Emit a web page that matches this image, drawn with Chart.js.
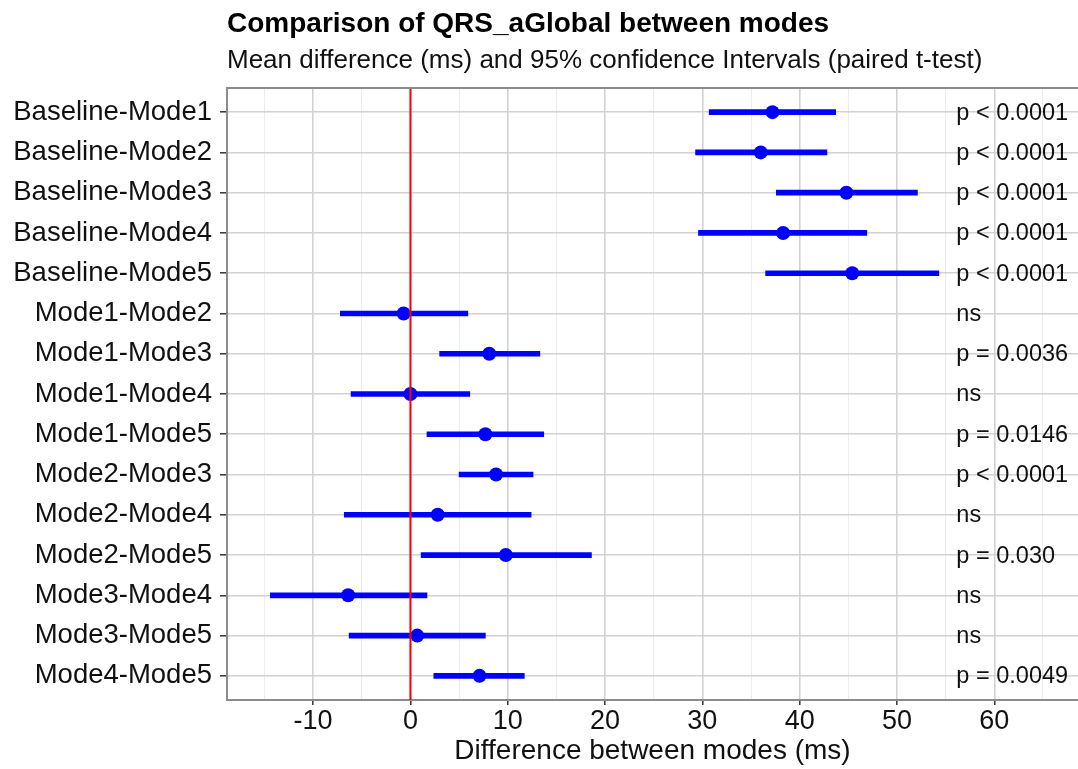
<!DOCTYPE html>
<html>
<head>
<meta charset="utf-8">
<title>Comparison of QRS_aGlobal between modes</title>
<script src="https://cdn.jsdelivr.net/npm/chart.js@4.4.1/dist/chart.umd.min.js"></script>
<style>
  html, body { margin: 0; padding: 0; background: #ffffff; }
  #wrap { width: 1078px; height: 769px; }
  canvas { display: block; }
</style>
</head>
<body>
<div id="wrap"><canvas id="chart" width="1078" height="769"></canvas></div>
<script>
// Pairwise comparisons (top to bottom)
const comparisons = [
  'Baseline-Mode1', 'Baseline-Mode2', 'Baseline-Mode3', 'Baseline-Mode4', 'Baseline-Mode5',
  'Mode1-Mode2', 'Mode1-Mode3', 'Mode1-Mode4', 'Mode1-Mode5',
  'Mode2-Mode3', 'Mode2-Mode4', 'Mode2-Mode5',
  'Mode3-Mode4', 'Mode3-Mode5', 'Mode4-Mode5'
];
// Mean difference (ms)
const meanDiff = [37.2, 36.0, 44.8, 38.3, 45.4, -0.7, 8.1, 0.0, 7.7, 8.8, 2.8, 9.8, -6.4, 0.7, 7.1];
// 95% confidence interval bounds (ms)
const ciLower = [30.7, 29.3, 37.6, 29.6, 36.5, -7.2, 3.0, -6.1, 1.7, 5.0, -6.8, 1.1, -14.4, -6.3, 2.4];
const ciUpper = [43.7, 42.8, 52.1, 46.9, 54.3, 5.9, 13.3, 6.1, 13.7, 12.6, 12.4, 18.6, 1.7, 7.7, 11.7];
// Paired t-test results
const pLabels = [
  'p < 0.0001', 'p < 0.0001', 'p < 0.0001', 'p < 0.0001', 'p < 0.0001',
  'ns', 'p = 0.0036', 'ns', 'p = 0.0146',
  'p < 0.0001', 'ns', 'p = 0.030',
  'ns', 'ns', 'p = 0.0049'
];
// x-axis grid positions (labels on multiples of 10)
const xTickValues = [-15, -10, -5, 0, 5, 10, 15, 20, 25, 30, 35, 40, 45, 50, 55, 60, 65];
const xMin = -18.85;
const xMax = 68.6;
const zeroLine = 0;
const pLabelX = 56.1;

const FONT = '"Liberation Sans", Arial, Helvetica, sans-serif';
const BLUE = '#0000ff';

const rowIndex = comparisons.map((_, i) => i);

const ciBars = ciLower.map((lo, i) => ({ x: [lo, ciUpper[i]], y: rowIndex[i] }));
const meanPoints = meanDiff.map((m, i) => ({ x: m, y: rowIndex[i] }));

// p-value text beside each row, plus the panel's top border
const annotations = {
  id: 'annotations',
  afterDatasetsDraw(chart) {
    const { ctx, scales: { x, y } } = chart;
    ctx.save();
    ctx.font = '23.5px ' + FONT;
    ctx.fillStyle = '#111111';
    ctx.textAlign = 'left';
    ctx.textBaseline = 'middle';
    pLabels.forEach((t, i) => {
      ctx.fillText(t, x.getPixelForValue(pLabelX), y.getPixelForValue(rowIndex[i]) + 1);
    });
    ctx.restore();
  },
  afterDraw(chart) {
    const { ctx, chartArea } = chart;
    ctx.save();
    ctx.strokeStyle = '#8c8c8c';
    ctx.lineWidth = 2;
    ctx.beginPath();
    ctx.moveTo(chartArea.left, chartArea.top);
    ctx.lineTo(chartArea.right, chartArea.top);
    ctx.stroke();
    ctx.restore();
  }
};

new Chart(document.getElementById('chart'), {
  type: 'bar',
  data: {
    datasets: [
      {
        type: 'line',
        label: 'zero',
        data: [{ x: zeroLine, y: -0.6 }, { x: zeroLine, y: comparisons.length - 0.4 }],
        borderColor: '#ff0000',
        borderWidth: 2,
        pointRadius: 0,
        order: 0
      },
      {
        type: 'line',
        label: 'Mean difference',
        data: meanPoints,
        showLine: false,
        pointRadius: 7,
        pointHoverRadius: 7,
        pointBackgroundColor: BLUE,
        pointBorderWidth: 0,
        borderColor: BLUE,
        order: 1
      },
      {
        type: 'bar',
        label: '95% CI',
        data: ciBars,
        backgroundColor: BLUE,
        borderWidth: 0,
        barThickness: 5,
        order: 2
      }
    ]
  },
  options: {
    indexAxis: 'y',
    responsive: false,
    animation: false,
    devicePixelRatio: 1,
    layout: { autoPadding: false, padding: { left: 0, right: 0, top: 0, bottom: 0 } },
    plugins: {
      legend: { display: false },
      tooltip: { enabled: false },
      title: {
        display: true,
        text: 'Comparison of QRS_aGlobal between modes',
        align: 'start',
        fullSize: false,
        color: '#000000',
        font: { family: FONT, size: 28, weight: 'bold' },
        padding: { top: 7.7, bottom: 0 }
      },
      subtitle: {
        display: true,
        text: 'Mean difference (ms) and 95% confidence Intervals (paired t-test)',
        align: 'start',
        fullSize: false,
        color: '#111111',
        font: { family: FONT, size: 26 },
        padding: { top: 3.6, bottom: 11.9 }
      }
    },
    scales: {
      x: {
        type: 'linear',
        position: 'bottom',
        min: xMin,
        max: xMax,
        offset: false,
        afterBuildTicks: (scale) => { scale.ticks = xTickValues.map(v => ({ value: v })); },
        afterFit: (scale) => {
          scale.height = 69;
          scale.paddingLeft = 0;
          scale.paddingRight = 0;
        },
        ticks: {
          autoSkip: false,
          maxRotation: 0,
          padding: 0,
          color: '#111111',
          font: { family: FONT, size: 27 },
          callback: (v) => (v % 10 === 0 ? String(v) : '')
        },
        grid: {
          offset: false,
          color: (c) => (c.tick && c.tick.value % 10 === 0 ? '#d2d2d2' : '#ececec'),
          lineWidth: (c) => (c.tick && c.tick.value % 10 === 0 ? 1.6 : 1),
          tickColor: (c) => (c.tick && c.tick.value % 10 === 0 ? '#333333' : 'rgba(0,0,0,0)'),
          tickLength: 5,
          tickWidth: 1.5
        },
        border: { display: true, color: '#8c8c8c', width: 2 },
        title: {
          display: true,
          text: 'Difference between modes (ms)',
          color: '#111111',
          font: { family: FONT, size: 28 },
          padding: { top: 0, bottom: 1 }
        }
      },
      y: {
        type: 'linear',
        reverse: true,
        offset: false,
        min: -0.6,
        max: comparisons.length - 0.4,
        afterBuildTicks: (scale) => { scale.ticks = rowIndex.map(v => ({ value: v })); },
        afterFit: (scale) => {
          scale.width = 227;
          scale.paddingTop = 0;
          scale.paddingBottom = 0;
        },
        ticks: {
          autoSkip: false,
          padding: 8,
          color: '#111111',
          font: { family: FONT, size: 27.5 },
          callback: (v) => comparisons[v] ?? ''
        },
        grid: {
          offset: false,
          color: '#d2d2d2',
          lineWidth: 1.6,
          tickColor: '#333333',
          tickLength: 7,
          tickWidth: 1.5
        },
        border: { display: true, color: '#8c8c8c', width: 2 }
      }
    }
  },
  plugins: [annotations]
});
</script>
</body>
</html>
